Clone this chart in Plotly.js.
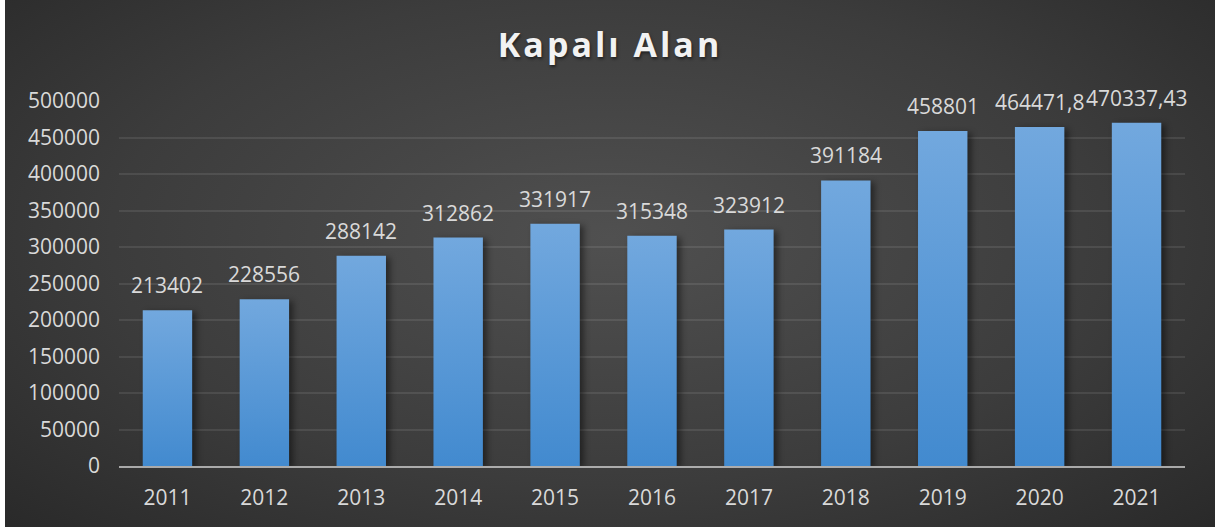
<!DOCTYPE html>
<html>
<head>
<meta charset="utf-8">
<script src="https://cdn.plot.ly/plotly-3.0.1.min.js"></script>
<style>
  html, body { margin: 0; padding: 0; background: #ffffff; width: 1221px; height: 530px; overflow: hidden; }
  #wrap { position: absolute; left: 5px; top: 0px; width: 1210px; height: 527px;
    background: radial-gradient(ellipse 75% 85% at 50% 45%, #505050 0%, #3c3c3c 55%, #262626 100%); }
  #chart { width: 1210px; height: 527px; }
  .gtitle { letter-spacing: 3px; }
  .barlayer .point path { filter: drop-shadow(4px 2px 3px rgba(0,0,0,0.45)); }
</style>
</head>
<body>
<div id="wrap"><div id="chart"></div></div>
<script>
const years = ['2011','2012','2013','2014','2015','2016','2017','2018','2019','2020','2021'];
const values = [213402, 228556, 288142, 312862, 331917, 315348, 323912, 391184, 458801, 464471.8, 470337.43];
const valueLabels = ['213402','228556','288142','312862','331917','315348','323912','391184','458801','464471,8','470337,43'];
const yTicks = [0, 50000, 100000, 150000, 200000, 250000, 300000, 350000, 400000, 450000, 500000];

const labelFont = { family: 'Open Sans, sans-serif', size: 21, color: '#d9d9d9' };

const trace = {
  type: 'bar',
  x: years,
  y: values,
  marker: { color: '#5b9bd5', line: { width: 0 } },
  hoverinfo: 'none'
};

// category axis: annotation x given as category index
const annotations = years.map((yr, i) => ({
  x: i, y: values[i], text: valueLabels[i],
  xref: 'x', yref: 'y', showarrow: false,
  yanchor: 'bottom', xanchor: 'center', yshift: 9,
  font: labelFont
}));

const layout = {
  width: 1210, height: 527,
  margin: { l: 113.5, r: 29.5, t: 101, b: 61 },
  paper_bgcolor: 'rgba(0,0,0,0)',
  plot_bgcolor: 'rgba(0,0,0,0)',
  bargap: 0.49,
  showlegend: false,
  title: {
    text: 'Kapalı Alan',
    x: 0.5, xref: 'container', xanchor: 'center',
    y: 1 - 45 / 527, yref: 'container', yanchor: 'middle',
    font: { family: 'Open Sans, sans-serif', size: 34, weight: 700, color: '#f2f2f2',
            shadow: '1px 2px 3px rgba(0,0,0,0.5)' }
  },
  xaxis: {
    type: 'category',
    categoryorder: 'array', categoryarray: years,
    range: [-0.5, years.length - 0.5], autorange: false,
    tickfont: labelFont,
    showgrid: false,
    showline: true, linecolor: 'rgba(210,210,210,0.75)', linewidth: 2,
    layer: 'above traces',
    ticks: '', ticklabelstandoff: 12,
    zeroline: false
  },
  yaxis: {
    range: [0, 500000], autorange: false,
    tickvals: yTicks,
    ticktext: yTicks.map(String),
    tickfont: labelFont,
    showgrid: true, gridcolor: 'rgba(255,255,255,0.09)', gridwidth: 2,
    zeroline: false, showline: false,
    ticks: '', ticklabelstandoff: 18
  },
  annotations: annotations
};

Plotly.newPlot('chart', [trace], layout, { staticPlot: true, displayModeBar: false }).then(gd => {
  const svg = gd.querySelector('svg.main-svg');
  const ns = 'http://www.w3.org/2000/svg';
  let defs = svg.querySelector('defs');
  if (!defs) { defs = document.createElementNS(ns, 'defs'); svg.insertBefore(defs, svg.firstChild); }
  const grad = document.createElementNS(ns, 'linearGradient');
  grad.setAttribute('id', 'barGrad');
  grad.setAttribute('x1', '0'); grad.setAttribute('y1', '0');
  grad.setAttribute('x2', '0'); grad.setAttribute('y2', '1');
  [['0%', '#72a8de'], ['100%', '#428acf']].forEach(([o, c]) => {
    const s = document.createElementNS(ns, 'stop');
    s.setAttribute('offset', o); s.setAttribute('stop-color', c);
    grad.appendChild(s);
  });
  defs.appendChild(grad);
  gd.querySelectorAll('.barlayer .point path').forEach(p => { p.style.fill = 'url(#barGrad)'; });
});
</script>
</body>
</html>
